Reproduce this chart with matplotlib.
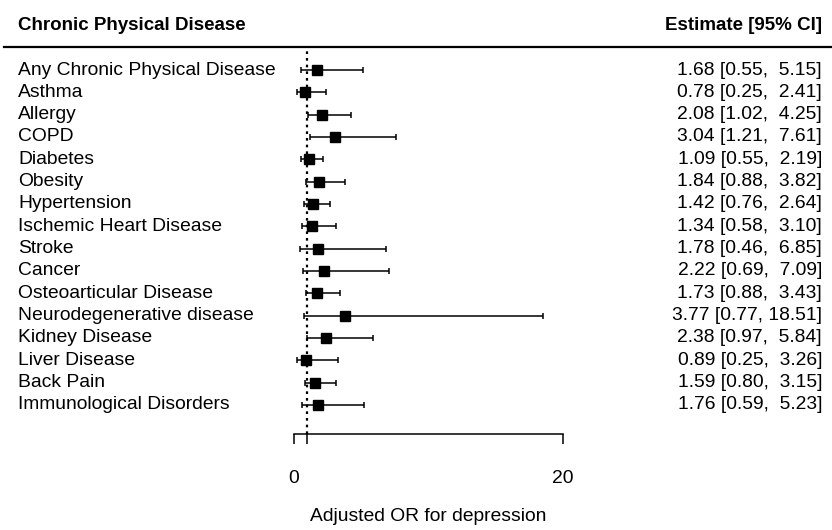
import matplotlib
matplotlib.use("Agg")
import matplotlib.pyplot as plt
import matplotlib.transforms as mtransforms

plt.rcParams['font.family'] = ['Liberation Sans', 'DejaVu Sans']

labels = ["Any Chronic Physical Disease", "Asthma", "Allergy", "COPD", "Diabetes",
          "Obesity", "Hypertension", "Ischemic Heart Disease", "Stroke", "Cancer",
          "Osteoarticular Disease", "Neurodegenerative disease", "Kidney Disease",
          "Liver Disease", "Back Pain", "Immunological Disorders"]
est = [1.68, 0.78, 2.08, 3.04, 1.09, 1.84, 1.42, 1.34, 1.78, 2.22, 1.73, 3.77, 2.38, 0.89, 1.59, 1.76]
lo = [0.55, 0.25, 1.02, 1.21, 0.55, 0.88, 0.76, 0.58, 0.46, 0.69, 0.88, 0.77, 0.97, 0.25, 0.80, 0.59]
hi = [5.15, 2.41, 4.25, 7.61, 2.19, 3.82, 2.64, 3.10, 6.85, 7.09, 3.43, 18.51, 5.84, 3.26, 3.15, 5.23]
xticks = [0, 1, 20]
xticklabels = ["0", "", "20"]

n = len(labels)
ypos = [n - i for i in range(n)]

fig = plt.figure(figsize=(8.32, 5.30), dpi=100)
ax = fig.add_axes([0, 0, 1, 1])
ax.set_xlim(-21.86, 40.0)
ax.set_ylim(-4.6, 19.135)

fs = 13.9

# intervals and squares
for y, e, l, h in zip(ypos, est, lo, hi):
    ax.errorbar(e, y, xerr=[[e - l], [h - e]], fmt='none', ecolor='black',
                elinewidth=1.1, capsize=2.5, capthick=1.1)
ax.plot(est, ypos, 's', color='black', markersize=7.2, linestyle='none')

# reference line at OR = 1
ax.plot([1, 1], [-0.3, 17.03], color='black', linestyle=(0, (1.2, 1.8)), linewidth=1.6)

# header rule
ax.axhline(17.03, xmin=0.005, xmax=1, color='black', linewidth=1.6)

tr = mtransforms.blended_transform_factory(ax.transAxes, ax.transData)
ax.text(0.0216, 18.0, "Chronic Physical Disease", transform=tr, fontsize=13.5,
        fontweight='bold', ha='left', va='center')
ax.text(0.988, 18.0, "Estimate [95% CI]", transform=tr, fontsize=13.5,
        fontweight='bold', ha='right', va='center')

for y, lab, e, l, h in zip(ypos, labels, est, lo, hi):
    ax.text(0.0216, y, lab, transform=tr, fontsize=fs, ha='left', va='center')
    pad = "  " if h < 10 else " "
    txt = "%.2f [%.2f,%s%.2f]" % (e, l, pad, h)
    ax.text(0.988, y, txt, transform=tr, fontsize=fs, ha='right', va='center')

# x axis
for s in ['top', 'right', 'left']:
    ax.spines[s].set_visible(False)
ax.spines['bottom'].set_position(('data', -0.3))
ax.spines['bottom'].set_bounds(0, 20)
ax.spines['bottom'].set_linewidth(1.1)
ax.set_yticks([])
ax.set_xticks(xticks)
ax.set_xticklabels(xticklabels)
ax.tick_params(axis='x', direction='out', length=7, width=1.1, pad=19, labelsize=fs)
ax.text(10, -4.0, "Adjusted OR for depression", fontsize=fs, ha='center', va='center')

fig.savefig("out.png", dpi=100)
